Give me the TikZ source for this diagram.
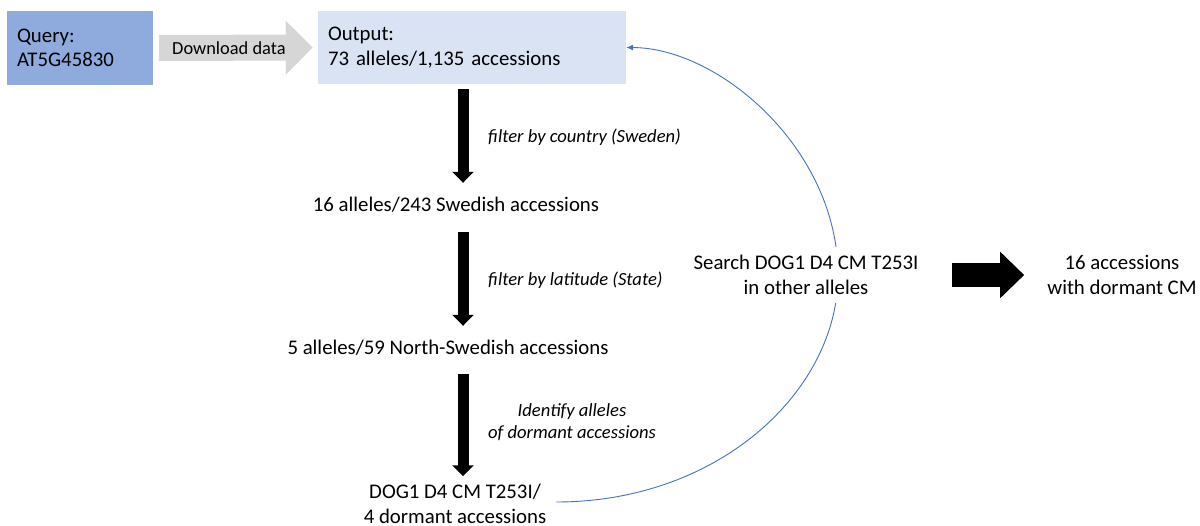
\documentclass[tikz,border=0pt]{standalone}
\usepackage{fontspec}
\setmainfont{Carlito}
\usetikzlibrary{arrows.meta,calc}
\definecolor{qblue}{HTML}{8FAADC}
\definecolor{oblue}{HTML}{DAE3F3}
\definecolor{lblue}{HTML}{4472C4}
\definecolor{garr}{HTML}{D6D6D6}
\newcommand\mainsz{\fontsize{20.8}{24.5}\selectfont}
\newcommand\lblsz{\fontsize{18.6}{21.5}\selectfont}
\newcommand\dlsz{\fontsize{18.4}{22}\selectfont}
\pgfdeclarelayer{bg}
\pgfsetlayers{bg,main}
\begin{document}
\begin{tikzpicture}[x=1pt,y=-1pt,
  every node/.style={inner sep=0pt,font=\mainsz},
  box/.style={anchor=center,align=left,inner xsep=10pt,inner ysep=0pt},
  txt/.style={text height=14pt,text depth=4pt},
  lbl/.style={font=\lblsz\itshape},
  garrow/.style={line width=26pt,draw=garr,-{Triangle[width=52pt,length=27pt]}},
  downarr/.style={line width=11pt,-{Triangle[width=21pt,length=11pt]}},
  bigarr/.style={line width=24pt,-{Triangle[width=45pt,length=24pt]}},
  loopline/.style={draw=lblue,line width=0.9pt,-{Latex[length=7pt,width=6pt]}}]
\useasboundingbox (0,0) rectangle (1200,526);
\begin{pgfonlayer}{bg}
\fill[white] (0,0) rectangle (1200,526);
\end{pgfonlayer}
% boxes
\node[box,fill=qblue,minimum width=146pt,minimum height=74pt,text width=126pt] (q) at (80,48) {Query:\\AT5G45830};
\node[box,fill=oblue,minimum width=308pt,minimum height=73pt,text width=288pt] (out) at (472,47.5) {Output:\\73 alleles/1,135 accessions};
% text nodes
\node[txt] (s1) at (456,207) {16 alleles/243 Swedish accessions};
\node[txt] (s2) at (448,350) {5 alleles/59 North-Swedish accessions};
\node[align=center] (dog) at (455,504) {DOG1 D4 CM T253I/\\4 dormant accessions};
\node[align=center,fill=white,inner xsep=4pt,inner ysep=8pt] (srch) at (806,275) {Search DOG1 D4 CM T253I\\in other alleles};
\node[align=center] (acc) at (1122,275) {16 accessions\\with dormant CM};
\coordinate (arcmid) at (838,275);
% labels
\node[lbl,anchor=west,txt] (l1) at (488,138) {filter by country (Sweden)};
\node[lbl,anchor=west,txt] (l2) at (488,281) {filter by latitude (State)};
\node[lbl,align=center] (l3) at (572,422) {Identify alleles\\of dormant accessions};
% connectors
\draw[garrow,shorten <=6pt,shorten >=5pt] (q.east) -- node[pos=0.46,font=\dlsz]{Download data} (out.west);
\draw[downarr,shorten <=5pt,shorten >=15pt] ([xshift=-9pt]out.south) -- ([xshift=-9pt]out.south |- s1.north);
\draw[downarr,shorten <=16pt,shorten >=15pt] ([xshift=7pt]s1.south) -- ([xshift=7pt]s1.south |- s2.north);
\draw[downarr,shorten <=15pt,shorten >=8pt] ([xshift=15pt]s2.south) -- ([xshift=15pt]s2.south |- dog.north);
\draw[bigarr,shorten <=29pt,shorten >=23pt] (srch.east) -- (acc.west);
\begin{pgfonlayer}{bg}
\draw[loopline] ([shift={(10pt,2pt)}]dog.east) .. controls (720,502) and (838,390) .. (arcmid) .. controls (838,150) and (720,48) .. (out.east);
\end{pgfonlayer}
\end{tikzpicture}
\end{document}
